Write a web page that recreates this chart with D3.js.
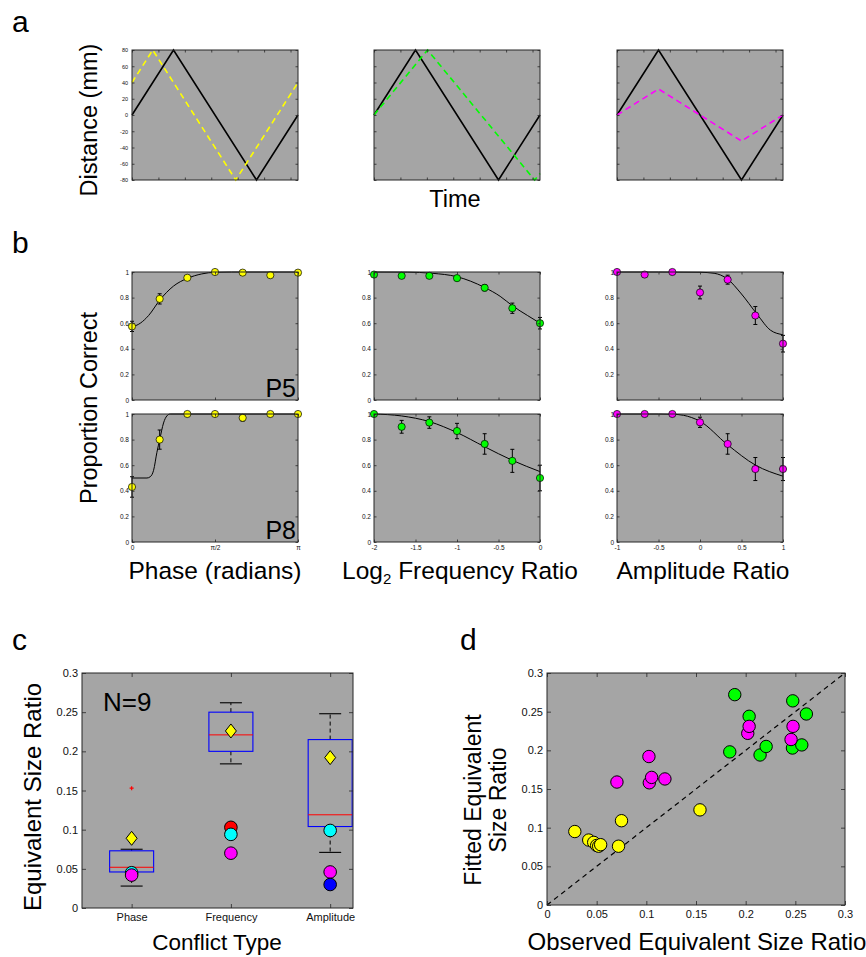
<!DOCTYPE html>
<html>
<head>
<meta charset="utf-8">
<script src="https://cdn.jsdelivr.net/npm/d3@7"></script>
<style>
  html, body { margin: 0; padding: 0; background: #fff; }
  svg { display: block; }
</style>
</head>
<body>
<script>
const PI = Math.PI;

// ---------- a: stimulus trajectories (triangle-wave vertices, time in radians) ----------
const timeTicks = [0, 1, 2, 3, 4, 5, 6];
const distanceTicks = [-80, -60, -40, -20, 0, 20, 40, 60, 80];
const referenceWaveT = [0, PI / 2, 3 * PI / 2, 2 * PI];
const referenceWaveD = [0, 80, -80, 0];
const phaseWaveT = [0, PI / 4, 5 * PI / 4, 2 * PI];
const phaseWaveD = [40, 80, -80, 40];
const frequencyWaveT = [0, 0.645 * PI, 1.935 * PI, 2 * PI];
const frequencyWaveD = [0, 80, -80, -72];
const amplitudeWaveT = [0, PI / 2, 3 * PI / 2, 2 * PI];
const amplitudeWaveD = [0, 32, -32, 0];

// ---------- b: proportion correct for two observers ----------
const proportionTicks = [0, 0.2, 0.4, 0.6, 0.8, 1];
const phaseLevels = [0, PI / 6, PI / 3, PI / 2, 2 * PI / 3, 5 * PI / 6, PI];
const phaseTicks = [0, PI / 2, PI];
const phaseTickLabels = ["0", "\u03c0/2", "\u03c0"];
const phaseP5 = [0.575, 0.79, 0.955, 1.0, 0.995, 0.975, 0.995];
const phaseP5Err = [0.04, 0.04, 0.012, 0.006, 0.008, 0.01, 0.006];
const phaseP8 = [0.43, 0.80, 1.0, 1.0, 0.97, 1.0, 1.0];
const phaseP8Err = [0.08, 0.075, 0.004, 0.004, 0.025, 0.004, 0.004];
const phaseFitP5X = [0, 0.05 * PI, 0.1 * PI, 0.167 * PI, 0.25 * PI, 0.333 * PI, 0.42 * PI, 0.5 * PI, 0.6 * PI, PI];
const phaseFitP5Y = [0.57, 0.60, 0.66, 0.78, 0.89, 0.95, 0.985, 0.998, 1.0, 1.0];
const phaseFitP8X = [0, 0.09 * PI, 0.11 * PI, 0.13 * PI, 0.15 * PI, 0.167 * PI, 0.19 * PI, 0.21 * PI, 0.23 * PI, PI];
const phaseFitP8Y = [0.5, 0.5, 0.51, 0.56, 0.70, 0.80, 0.93, 0.985, 1.0, 1.0];

const freqLevels = [-2, -5 / 3, -4 / 3, -1, -2 / 3, -1 / 3, 0];
const freqTicks = [-2, -1.5, -1, -0.5, 0];
const freqP5 = [0.98, 0.97, 0.97, 0.952, 0.877, 0.717, 0.60];
const freqP5Err = [0.01, 0.01, 0.01, 0.012, 0.025, 0.04, 0.045];
const freqP8 = [1.0, 0.90, 0.933, 0.867, 0.766, 0.634, 0.50];
const freqP8Err = [0.005, 0.05, 0.045, 0.06, 0.08, 0.09, 0.1];
const freqFitP5X = [-2, -1.6, -1.3, -1, -0.67, -0.48, -0.33, -0.15, 0];
const freqFitP5Y = [1.0, 0.999, 0.99, 0.963, 0.88, 0.81, 0.735, 0.66, 0.60];
const freqFitP8X = [-2, -1.67, -1.33, -1, -0.67, -0.33, 0];
const freqFitP8Y = [1.0, 0.985, 0.94, 0.855, 0.745, 0.637, 0.55];

const ampLevels = [-1, -2 / 3, -1 / 3, 0, 1 / 3, 2 / 3, 1];
const ampTicks = [-1, -0.5, 0, 0.5, 1];
const ampP5 = [1.0, 0.98, 1.0, 0.84, 0.94, 0.66, 0.44];
const ampP5Err = [0.005, 0.01, 0.005, 0.05, 0.035, 0.07, 0.065];
const ampP8 = [1.0, 1.0, 1.0, 0.935, 0.766, 0.57, 0.57];
const ampP8Err = [0.005, 0.005, 0.005, 0.04, 0.08, 0.09, 0.09];
const ampFitP5X = [-1, -0.5, 0, 0.17, 0.33, 0.49, 0.69, 0.85, 1];
const ampFitP5Y = [1.0, 1.0, 0.998, 0.99, 0.946, 0.836, 0.668, 0.545, 0.51];
const ampFitP8X = [-1, -0.5, -0.33, -0.2, 0, 0.33, 0.67, 1];
const ampFitP8Y = [1.0, 1.0, 0.998, 0.99, 0.943, 0.761, 0.60, 0.514];

// ---------- c: equivalent size ratio by conflict type ----------
const conflictTypes = ["Phase", "Frequency", "Amplitude"];
const ratioTicks = [0, 0.05, 0.1, 0.15, 0.2, 0.25, 0.3];
const boxQ1 = [0.046, 0.200, 0.104];
const boxMedian = [0.052, 0.221, 0.119];
const boxQ3 = [0.073, 0.250, 0.215];
const whiskerLow = [0.028, 0.184, 0.071];
const whiskerHigh = [0.075, 0.262, 0.248];
const outlierType = [0];
const outlierValue = [0.153];
const diamondValue = [0.089, 0.226, 0.192];
const redValue = [null, 0.103, null];
const cyanValue = [0.045, 0.094, 0.099];
const magentaValue = [0.042, 0.070, 0.046];
const blueValue = [null, null, 0.030];

// ---------- d: fitted vs observed equivalent size ratio ----------
const phaseObserved = [0.028, 0.042, 0.047, 0.050, 0.052, 0.054, 0.072, 0.075, 0.154];
const phaseFitted = [0.095, 0.084, 0.081, 0.077, 0.076, 0.078, 0.076, 0.109, 0.123];
const freqObserved = [0.184, 0.189, 0.2035, 0.2145, 0.2206, 0.2474, 0.2471, 0.2565, 0.2611];
const freqFitted = [0.198, 0.272, 0.244, 0.194, 0.205, 0.264, 0.203, 0.207, 0.247];
const ampObserved = [0.0704, 0.1026, 0.103, 0.1053, 0.1187, 0.2021, 0.2035, 0.2457, 0.2477];
const ampFitted = [0.159, 0.192, 0.158, 0.165, 0.163, 0.222, 0.231, 0.214, 0.231];
const identityLine = [0, 0.3];

// ---------- drawing ----------
const W = 866, H = 957;
const BG = "#a5a5a5";
const AXIS = "#262626";
const FONT = "'Liberation Sans', Arial, Helvetica, sans-serif";
const YELLOW = "#ffff00", GREEN = "#00ff00", MAGENTA = "#ff00ff";
const LABEL = 23.5;

const svg = d3.select("body").append("svg")
  .attr("width", W).attr("height", H)
  .style("font-family", FONT);

const zip = (a, b) => a.map((v, i) => [v, b[i]]);
const fmtNum = d => String(+d.toFixed(4));

function background(g, x, y) {
  const [x0, x1] = x.range(), [yb, yt] = y.range();
  g.append("rect").attr("x", x0).attr("y", yt)
    .attr("width", x1 - x0).attr("height", yb - yt).attr("fill", BG);
}

function axes(g, x, y, o) {
  const [x0, x1] = x.range(), [yb, yt] = y.range();
  const tl = o.tick;
  const style = sel => {
    sel.select(".domain").remove();
    sel.attr("font-family", FONT).attr("font-size", o.font);
    sel.selectAll("line").attr("stroke", AXIS).attr("stroke-width", 0.8);
    sel.selectAll("text").attr("fill", "#111");
  };
  g.append("g").attr("transform", `translate(0,${yb})`)
    .call(d3.axisBottom(x).tickValues(o.xTicks).tickSize(-tl).tickSizeOuter(0)
      .tickPadding(o.xPad || 3).tickFormat(o.xFmt || (() => "")))
    .call(style);
  g.append("g").attr("transform", `translate(0,${yt})`)
    .call(d3.axisTop(x).tickValues(o.xTicks).tickSize(-tl).tickSizeOuter(0).tickFormat(() => ""))
    .call(style);
  g.append("g").attr("transform", `translate(${x0},0)`)
    .call(d3.axisLeft(y).tickValues(o.yTicks).tickSize(-tl).tickSizeOuter(0)
      .tickPadding(o.yPad || 3).tickFormat(o.yFmt || (() => "")))
    .call(style);
  g.append("g").attr("transform", `translate(${x1},0)`)
    .call(d3.axisRight(y).tickValues(o.yTicks).tickSize(-tl).tickSizeOuter(0).tickFormat(() => ""))
    .call(style);
  g.append("rect").attr("x", x0).attr("y", yt)
    .attr("width", x1 - x0).attr("height", yb - yt)
    .attr("fill", "none").attr("stroke", AXIS).attr("stroke-width", 1);
}

function label(text, x, y, size, opts = {}) {
  const t = svg.append("text").attr("x", x).attr("y", y)
    .attr("font-size", size).attr("fill", "#000")
    .attr("text-anchor", opts.anchor || "middle");
  if (opts.rotate) t.attr("transform", `rotate(-90,${x},${y})`);
  t.text(text);
  return t;
}

// ----- panel a -----
const aCols = [
  { x0: 132, x1: 298, t: phaseWaveT, d: phaseWaveD, color: YELLOW, dash: "6,4", labels: true },
  { x0: 374, x1: 540, t: frequencyWaveT, d: frequencyWaveD, color: GREEN, dash: "6,4", labels: false },
  { x0: 617, x1: 783, t: amplitudeWaveT, d: amplitudeWaveD, color: MAGENTA, dash: "6,4", labels: false }
];
aCols.forEach(c => {
  const g = svg.append("g");
  const x = d3.scaleLinear().domain([0, 2 * PI]).range([c.x0, c.x1]);
  const y = d3.scaleLinear().domain([-80, 80]).range([180, 50]);
  background(g, x, y);
  const line = d3.line().x(p => x(p[0])).y(p => y(p[1]));
  g.append("path").datum(zip(referenceWaveT, referenceWaveD)).attr("d", line)
    .attr("fill", "none").attr("stroke", "#000").attr("stroke-width", 1.6);
  g.append("path").datum(zip(c.t, c.d)).attr("d", line)
    .attr("fill", "none").attr("stroke", c.color).attr("stroke-width", 1.6)
    .attr("stroke-dasharray", c.dash);
  axes(g, x, y, {
    tick: 2.5, font: 5.5, xTicks: timeTicks, yTicks: distanceTicks,
    yFmt: c.labels ? (d => String(d)) : null, yPad: 4
  });
});
label("Distance (mm)", 97, 120, LABEL, { rotate: true });
label("Time", 455, 207, LABEL);

// ----- panel b -----
const bRows = [{ top: 272, bottom: 400 }, { top: 414, bottom: 542 }];
const bCols = [
  {
    x0: 132, x1: 298, domain: [0, PI], levels: phaseLevels, ticks: phaseTicks,
    fmt: d => phaseTickLabels[phaseTicks.indexOf(d)], color: YELLOW,
    series: [
      { y: phaseP5, e: phaseP5Err, fx: phaseFitP5X, fy: phaseFitP5Y, zero: true },
      { y: phaseP8, e: phaseP8Err, fx: phaseFitP8X, fy: phaseFitP8Y, zero: true }
    ]
  },
  {
    x0: 374, x1: 540, domain: [-2, 0], levels: freqLevels, ticks: freqTicks,
    fmt: fmtNum, color: GREEN,
    series: [
      { y: freqP5, e: freqP5Err, fx: freqFitP5X, fy: freqFitP5Y, zero: true },
      { y: freqP8, e: freqP8Err, fx: freqFitP8X, fy: freqFitP8Y, zero: true }
    ]
  },
  {
    x0: 617, x1: 783, domain: [-1, 1], levels: ampLevels, ticks: ampTicks,
    fmt: fmtNum, color: MAGENTA,
    series: [
      { y: ampP5, e: ampP5Err, fx: ampFitP5X, fy: ampFitP5Y, zero: false },
      { y: ampP8, e: ampP8Err, fx: ampFitP8X, fy: ampFitP8Y, zero: true }
    ]
  }
];
bCols.forEach(c => {
  c.series.forEach((s, r) => {
    const g = svg.append("g");
    const x = d3.scaleLinear().domain(c.domain).range([c.x0, c.x1]);
    const y = d3.scaleLinear().domain([0, 1]).range([bRows[r].bottom, bRows[r].top]);
    background(g, x, y);
    // fitted psychometric curve
    g.append("path").datum(zip(s.fx, s.fy))
      .attr("d", d3.line().x(p => x(p[0])).y(p => y(p[1])).curve(d3.curveMonotoneX))
      .attr("fill", "none").attr("stroke", "#000").attr("stroke-width", 1);
    const pts = c.levels.map((lv, i) => ({ x: lv, y: s.y[i], e: s.e[i] }));
    // error bars
    const eb = g.append("g").attr("stroke", "#000").attr("stroke-width", 1);
    pts.forEach(p => {
      const lo = Math.max(0, p.y - p.e), hi = Math.min(1.0, p.y + p.e);
      eb.append("line").attr("x1", x(p.x)).attr("x2", x(p.x)).attr("y1", y(lo)).attr("y2", y(hi));
      [lo, hi].forEach(v => eb.append("line")
        .attr("x1", x(p.x) - 2).attr("x2", x(p.x) + 2).attr("y1", y(v)).attr("y2", y(v)));
    });
    g.selectAll("circle.pt").data(pts).join("circle").attr("class", "pt")
      .attr("cx", p => x(p.x)).attr("cy", p => y(p.y)).attr("r", 3.6)
      .attr("fill", c.color).attr("stroke", "#000").attr("stroke-width", 0.7);
    axes(g, x, y, {
      tick: 2.5, font: 6.5, xTicks: c.ticks, yTicks: proportionTicks,
      xFmt: r === 1 ? c.fmt : null, xPad: 3,
      yFmt: d => (d === 0 && !s.zero) ? "" : fmtNum(d), yPad: 3
    });
  });
});
label("P5", 296, 397, 25, { anchor: "end" });
label("P8", 296, 539, 25, { anchor: "end" });
label("Proportion Correct", 97, 408, LABEL, { rotate: true });
label("Phase (radians)", 215, 579, 24.5);
const logLab = label("", 460, 579, 24.5);
logLab.append("tspan").text("Log");
logLab.append("tspan").attr("font-size", 15).attr("dy", 5).text("2");
logLab.append("tspan").attr("dy", -5).text(" Frequency Ratio");
label("Amplitude Ratio", 703, 579, 24.5);

// ----- panel c -----
{
  const g = svg.append("g");
  const x = d3.scaleLinear().domain([0.5, 3.23]).range([82, 353]);
  const y = d3.scaleLinear().domain([0, 0.3]).range([908, 673]);
  const pos = i => x(i + 1);
  background(g, x, y);
  const boxW = 44, capW = 22;
  conflictTypes.forEach((t, i) => {
    const cx = pos(i);
    // whiskers
    [[boxQ3[i], whiskerHigh[i]], [boxQ1[i], whiskerLow[i]]].forEach(([a, b]) => {
      g.append("line").attr("x1", cx).attr("x2", cx).attr("y1", y(a)).attr("y2", y(b))
        .attr("stroke", "#000").attr("stroke-width", 1).attr("stroke-dasharray", "4,3");
      g.append("line").attr("x1", cx - capW / 2).attr("x2", cx + capW / 2)
        .attr("y1", y(b)).attr("y2", y(b)).attr("stroke", "#000").attr("stroke-width", 1.1);
    });
    g.append("rect").attr("x", cx - boxW / 2).attr("y", y(boxQ3[i]))
      .attr("width", boxW).attr("height", y(boxQ1[i]) - y(boxQ3[i]))
      .attr("fill", "none").attr("stroke", "#0000ff").attr("stroke-width", 1.1);
    g.append("line").attr("x1", cx - boxW / 2).attr("x2", cx + boxW / 2)
      .attr("y1", y(boxMedian[i])).attr("y2", y(boxMedian[i]))
      .attr("stroke", "#ff0000").attr("stroke-width", 1);
  });
  outlierType.forEach((ti, k) => {
    const cx = pos(ti), cy = y(outlierValue[k]);
    g.append("path").attr("d", `M${cx - 2},${cy}H${cx + 2}M${cx},${cy - 2}V${cy + 2}`)
      .attr("stroke", "#ff0000").attr("stroke-width", 1.2);
  });
  diamondValue.forEach((v, i) => {
    const cx = pos(i), cy = y(v);
    g.append("path").attr("d", `M${cx},${cy - 7}L${cx + 5.5},${cy}L${cx},${cy + 7}L${cx - 5.5},${cy}Z`)
      .attr("fill", YELLOW).attr("stroke", "#000").attr("stroke-width", 1);
  });
  [[redValue, "#ff0000"], [cyanValue, "#00ffff"], [magentaValue, MAGENTA], [blueValue, "#0000ff"]]
    .forEach(([vals, col]) => vals.forEach((v, i) => {
      if (v === null) return;
      g.append("circle").attr("cx", pos(i)).attr("cy", y(v)).attr("r", 6.3)
        .attr("fill", col).attr("stroke", "#000").attr("stroke-width", 1);
    }));
  axes(g, x, y, {
    tick: 4, font: 11, xTicks: [1, 2, 3], yTicks: ratioTicks,
    xFmt: d => conflictTypes[d - 1], xPad: 5, yFmt: fmtNum, yPad: 4
  });
  g.append("text").attr("x", 103).attr("y", 711).attr("font-size", 26).text("N=9");
}
label("Equivalent Size Ratio", 41, 797, 24, { rotate: true });
label("Conflict Type", 217, 950, 22.5);

// ----- panel d -----
{
  const g = svg.append("g");
  const x = d3.scaleLinear().domain([0, 0.3]).range([547, 845]);
  const y = d3.scaleLinear().domain([0, 0.3]).range([905, 673]);
  background(g, x, y);
  g.append("line").attr("x1", x(identityLine[0])).attr("y1", y(identityLine[0]))
    .attr("x2", x(identityLine[1])).attr("y2", y(identityLine[1]))
    .attr("stroke", "#000").attr("stroke-width", 1.2).attr("stroke-dasharray", "5,4");
  [[phaseObserved, phaseFitted, YELLOW], [freqObserved, freqFitted, GREEN], [ampObserved, ampFitted, MAGENTA]]
    .forEach(([ox, fy, col]) => {
      g.append("g").selectAll("circle").data(zip(ox, fy)).join("circle")
        .attr("cx", p => x(p[0])).attr("cy", p => y(p[1])).attr("r", 6.2)
        .attr("fill", col).attr("stroke", "#000").attr("stroke-width", 1);
    });
  axes(g, x, y, {
    tick: 4, font: 11, xTicks: ratioTicks, yTicks: ratioTicks,
    xFmt: fmtNum, xPad: 5, yFmt: fmtNum, yPad: 4
  });
}
const fitLab = label("", 0, 0, 23);
fitLab.attr("transform", "translate(481,800) rotate(-90)");
fitLab.append("tspan").attr("x", 0).attr("dy", 0).text("Fitted Equivalent");
fitLab.append("tspan").attr("x", 0).attr("dy", 25).text("Size Ratio");
label("Observed Equivalent Size Ratio", 697, 950, 24);

// panel letters
label("a", 12, 32, 30, { anchor: "start" });
label("b", 12, 253, 30, { anchor: "start" });
label("c", 12, 650, 30, { anchor: "start" });
label("d", 460, 650, 30, { anchor: "start" });
</script>
</body>
</html>
